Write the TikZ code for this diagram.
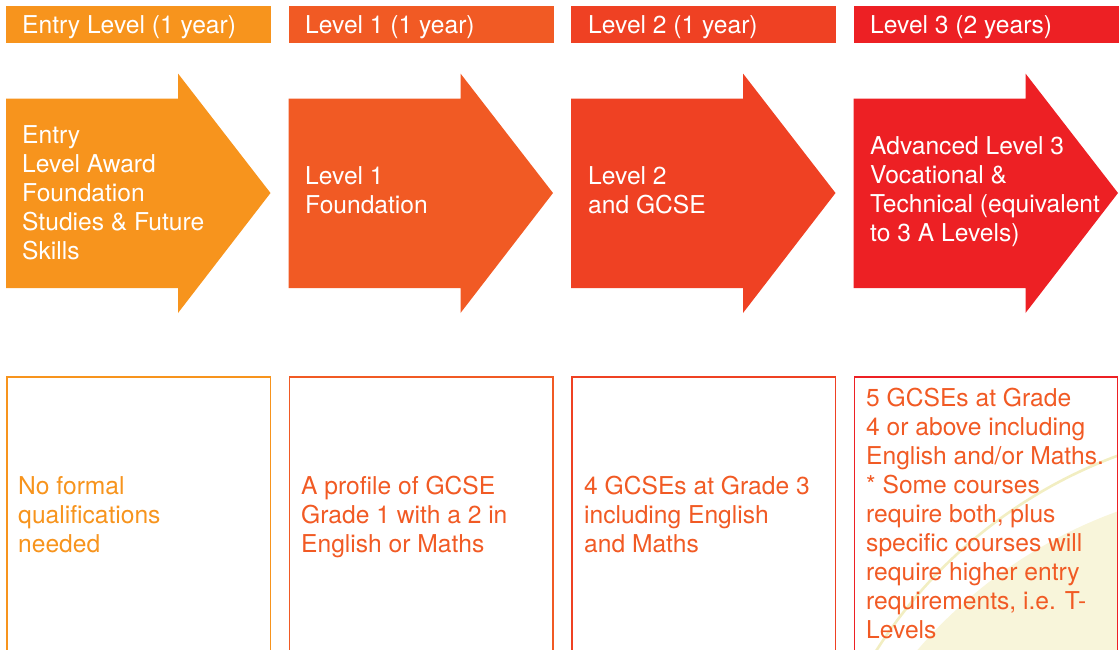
\documentclass[tikz,border=0pt]{standalone}
\usepackage{fontspec}
\setmainfont{TeX Gyre Heros}
\definecolor{cA}{HTML}{F7941D}
\definecolor{cB}{HTML}{F15A24}
\definecolor{cC}{HTML}{EF4123}
\definecolor{cD}{HTML}{ED2024}
\definecolor{creamfill}{HTML}{F8F5DA}
\definecolor{creamline}{HTML}{F2EEC2}
\begin{document}
\begin{tikzpicture}[x=1pt,y=-1pt,
  bartext/.style={anchor=base west,inner sep=0pt,text=white,font=\fontsize{24.6}{29}\selectfont},
  arrowtext/.style={anchor=west,inner sep=0pt,text=white,align=left,font=\fontsize{24.6}{29}\selectfont},
  reqbox/.style={draw=#1,line width=1.6pt,fill=none},
  reqtext/.style={anchor=west,inner sep=0pt,text=#1,align=left,font=\fontsize{24.6}{29}\selectfont}]
\useasboundingbox (0,0) rectangle (1120,649);

% header bars
\fill[cA] (6,6) rectangle (271,43);
\fill[cB] (288.5,6) rectangle (553.5,43);
\fill[cC] (571,6) rectangle (836,43);
\fill[cD] (853.5,6) rectangle (1118.5,43);
\node[bartext] (h0) at (22,33) {Entry Level (1 year)};
\node[bartext] (h1) at (305,33) {Level 1 (1 year)};
\node[bartext] (h2) at (588,33) {Level 2 (1 year)};
\node[bartext] (h3) at (870,33) {Level 3 (2 years)};

% arrows
\foreach \x/\c in {6/cA,288.5/cB,571/cC,853.5/cD}{
  \fill[\c] (\x,98.5) -- ++(172,0) -- ++(0,-25) -- ++(92.5,119.5) -- ++(-92.5,120) -- ++(0,-25) -- ++(-172,0) -- cycle;
}
\node[arrowtext] (a0) at (22,193) {Entry\\Level Award\\Foundation\\Studies \& Future\\Skills};
\node[arrowtext] (a1) at (305,190) {Level 1\\Foundation};
\node[arrowtext] (a2) at (588,190) {Level 2\\and GCSE};
\node[arrowtext] (a3) at (870,192) {Advanced Level 3\\Vocational \&\\Technical (equivalent\\to 3 A Levels)};

% decoration in last box
\begin{scope}
  \clip (853.5,377) rectangle (1117.5,660);
  \fill[creamfill] (1280,960) circle[radius=477];
  \draw[creamline,line width=2.6pt] (1285,910) circle[radius=484];
\end{scope}

% requirement boxes
\draw[reqbox=cA] (6.8,377) rectangle (270.5,670);
\draw[reqbox=cB] (289.3,377) rectangle (553,670);
\draw[reqbox=cC] (571.8,377) rectangle (835.5,670);
\draw[reqbox=cD] (854.3,377) rectangle (1117.5,670);

\node[reqtext=cA] (r0) at (18,515) {No formal\\qualifications\\needed};
\node[reqtext=cB] (r1) at (301,517) {A profile of GCSE\\Grade 1 with a 2 in\\English or Maths};
\node[reqtext=cB] (r2) at (584,514) {4 GCSEs at Grade 3\\including English\\and Maths};
\node[reqtext=cB] (r3) at (866,513) {5 GCSEs at Grade\\4 or above including\\English and/or Maths.\\* Some courses\\require both, plus\\specific courses will\\require higher entry\\requirements, i.e. T-\\Levels};
\end{tikzpicture}
\end{document}
